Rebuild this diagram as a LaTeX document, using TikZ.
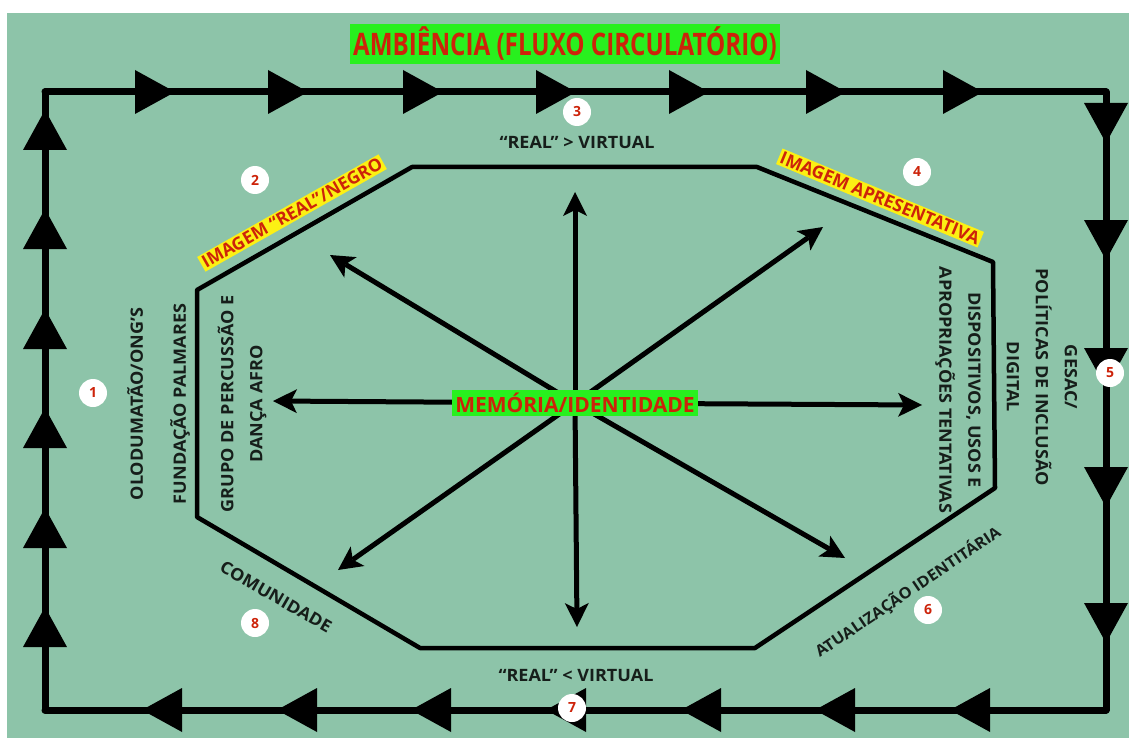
\documentclass[tikz,border=0pt]{standalone}
\usepackage{fontspec}
\setmainfont{Open Sans}
\newfontfamily\titlefont[FakeStretch=0.78]{Open Sans}
\newfontfamily\bodyfont[FakeStretch=1.06]{Open Sans}
\usetikzlibrary{arrows.meta, decorations.markings}

\definecolor{bggreen}{RGB}{141,196,169}
\definecolor{boxgreen}{RGB}{40,240,30}
\definecolor{boxyellow}{RGB}{252,240,20}
\definecolor{tagred}{RGB}{205,35,10}
\definecolor{inkdark}{RGB}{22,30,26}

\tikzset{
  loopline/.style={line width=7pt, line cap=round},
  tip at/.style={postaction={decorate, decoration={markings,
      mark=at position #1pt with {\arrow{Triangle[length=40pt, width=44pt, line width=0pt]}}}}},
  ray/.style={line width=5pt, -{Stealth[length=24pt, width=24pt, inset=6pt, line width=0pt]}},
  lbl/.style={font=\bodyfont\bfseries\fontsize{17}{29}\selectfont, text=inkdark, align=center, inner sep=0pt},
  numdot/.style={circle, fill=white, text=tagred, minimum size=28pt, inner sep=0pt,
      font=\bfseries\fontsize{14}{14}\selectfont},
  yellowtag/.style={fill=boxyellow, text=tagred, inner sep=2pt,
      font=\bfseries\fontsize{17.5}{17.5}\selectfont},
}

\begin{document}
\begin{tikzpicture}[x=1pt, y=-1pt]
  % page and background
  \useasboundingbox (0,0) rectangle (1129,738);
  \fill[white] (0,0) rectangle (1129,738);
  \fill[bggreen] (7,13) rectangle (1129,738);

  % corners of the circulation loop
  \coordinate (tl) at (45,92);
  \coordinate (tr) at (1106,92);
  \coordinate (br) at (1106,710);
  \coordinate (bl) at (45,710);

  \draw[loopline, tip at/.list={130,263,398,531,664,801,938}] (tl) -- (tr);
  \draw[loopline, tip at/.list={51,168,296,415,551}] (tr) -- (br);
  \draw[loopline, tip at/.list={156,291,425,560,695,829,964}] (br) -- (bl);
  \draw[loopline, tip at/.list={103,202,302,401,501,600}] (bl) -- (tl);

  % octagon
  \coordinate (o1) at (412,167);
  \coordinate (o2) at (757,167);
  \coordinate (o3) at (993,262);
  \coordinate (o4) at (995,488);
  \coordinate (o5) at (755,648);
  \coordinate (o6) at (420,648);
  \coordinate (o7) at (197,517);
  \coordinate (o8) at (197,290);
  \draw[line width=4.5pt, line join=round] (o1) -- (o2) -- (o3) -- (o4) -- (o5) -- (o6) -- (o7) -- (o8) -- cycle;

  % rays from the centre
  \coordinate (c) at (575,403);
  \coordinate (up) at (575,192);
  \coordinate (down) at (577,627);
  \coordinate (left) at (273,401);
  \coordinate (right) at (922,405);
  \coordinate (ul) at (330,255);
  \coordinate (ur) at (823,227);
  \coordinate (ll) at (338,570);
  \coordinate (lr) at (845,558);
  \foreach \e in {up,down,left,right,ul,ur,ll,lr}
    \draw[ray] (c) -- (\e);

  \node[fill=boxgreen, text=tagred, inner sep=3pt, font=\bfseries\fontsize{21}{21}\selectfont] (mem) at (c) {MEMÓRIA/IDENTIDADE};

  % title
  \node[fill=boxgreen, text=tagred, inner sep=3pt, font=\titlefont\bfseries\fontsize{31}{31}\selectfont] (title) at (565,44) {AMBIÊNCIA (FLUXO CIRCULATÓRIO)};

  % labels round the octagon
  \node[lbl] (realgt) at (577,142) {“REAL” > VIRTUAL};
  \node[lbl] (reallt) at (576,675) {“REAL” < VIRTUAL};
  \node[yellowtag, rotate=29.5] (negro) at (292,213) {IMAGEM “REAL”/NEGRO};
  \node[yellowtag, rotate=-22.5] (apres) at (880,198) {IMAGEM APRESENTATIVA};
  \node[lbl, rotate=90] (olodum) at (135,404) {OLODUMATÃO/ONG’S};
  \node[lbl, rotate=90] (palmares) at (180,404) {FUNDAÇÃO PALMARES};
  \node[lbl, rotate=90] (grupo) at (242,404) {GRUPO DE PERCUSSÃO E\\DANÇA AFRO};
  \node[lbl, rotate=-90] (dispos) at (958,390) {DISPOSITIVOS, USOS E\\APROPRIAÇÕES TENTATIVAS};
  \node[lbl, rotate=-90] (gesac) at (1042,377) {GESAC/\\POLÍTICAS DE INCLUSÃO\\DIGITAL};
  \node[lbl, font=\bodyfont\bfseries\fontsize{15.5}{15.5}\selectfont, rotate=34] (atual) at (908,592) {ATUALIZAÇÃO IDENTITÁRIA};
  \node[lbl, rotate=-30] (comun) at (276,597) {COMUNIDADE};

  % numbered markers
  \node[numdot] (n1) at (93,393) {1};
  \node[numdot] (n2) at (255,180) {2};
  \node[numdot] (n3) at (577,112) {3};
  \node[numdot] (n4) at (917,172) {4};
  \node[numdot] (n5) at (1110,373) {5};
  \node[numdot] (n6) at (928,610) {6};
  \node[numdot] (n7) at (572,708) {7};
  \node[numdot] (n8) at (255,623) {8};
\end{tikzpicture}
\end{document}
